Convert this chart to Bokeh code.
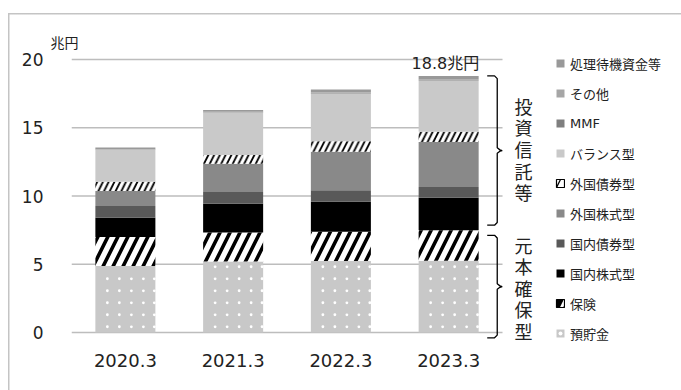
from bokeh.plotting import figure
from bokeh.models import FixedTicker, Legend, LegendItem, ColumnDataSource, Range1d
from bokeh.transform import stack
from bokeh.core.properties import value
from bokeh.embed import file_html
from bokeh.resources import INLINE

# Household financial assets by type, trillion yen (fiscal year end)
periods = ["2020.3", "2021.3", "2022.3", "2023.3"]
deposits = [4.88, 5.20, 5.24, 5.25]
insurance = [2.12, 2.12, 2.15, 2.24]
dom_equity = [1.41, 2.12, 2.19, 2.39]
dom_bond = [0.86, 0.85, 0.84, 0.78]
for_equity = [1.10, 2.07, 2.82, 3.29]
for_bond = [0.68, 0.64, 0.78, 0.75]
balanced = [2.33, 3.10, 3.46, 3.76]
mmf = [0.02, 0.02, 0.03, 0.03]
other = [0.05, 0.05, 0.07, 0.07]
pending = [0.10, 0.13, 0.22, 0.24]

series_keys = ["deposits", "insurance", "dom_equity", "dom_bond", "for_equity",
               "for_bond", "balanced", "mmf", "other", "pending"]
series_names = ["預貯金", "保険", "国内株式型", "国内債券型", "外国株式型",
                "外国債券型", "バランス型", "MMF", "その他", "処理待機資金等"]
y_ticks = [0, 5, 10, 15, 20]
unit_label = "兆円"
group_labels = ["投資信託等", "元本確保型"]

JP = "DejaVu Sans, Noto Sans CJK JP"
TXT = "#222222"

styles = {
    "deposits":   dict(fill_color="#c8c8c8"),
    "insurance":  dict(fill_color="white", hatch_pattern="right_diagonal_line",
                       hatch_color="black", hatch_scale=20, hatch_weight=3.6),
    "dom_equity": dict(fill_color="#000000"),
    "dom_bond":   dict(fill_color="#595959"),
    "for_equity": dict(fill_color="#898989"),
    "for_bond":   dict(fill_color="white", hatch_pattern="right_diagonal_line",
                       hatch_color="black", hatch_scale=11.5, hatch_weight=1.8),
    "balanced":   dict(fill_color="#c9c9c9"),
    "mmf":        dict(fill_color="#7f7f7f"),
    "other":      dict(fill_color="#a6a6a6"),
    "pending":    dict(fill_color="#999999"),
}

# outlined swatches for the hatched series in the legend
legend_swatches = {
    "insurance": dict(fill_color="white", line_color="black", line_width=1.2,
                      hatch_pattern="right_diagonal_line", hatch_color="black",
                      hatch_scale=20, hatch_weight=6),
    "for_bond":  dict(fill_color="white", line_color="black", line_width=1.2,
                      hatch_pattern="right_diagonal_line", hatch_color="black",
                      hatch_scale=20, hatch_weight=1.3),
}

BAR_W = 0.557
xs = [i + 0.5 for i in range(len(periods))]
values_by_key = dict(deposits=deposits, insurance=insurance, dom_equity=dom_equity,
                     dom_bond=dom_bond, for_equity=for_equity, for_bond=for_bond,
                     balanced=balanced, mmf=mmf, other=other, pending=pending)
source = ColumnDataSource(dict(x=xs, **values_by_key))

totals = [sum(v[i] for v in values_by_key.values()) for i in range(len(periods))]
principal_top = [deposits[i] + insurance[i] for i in range(len(periods))]

# light frame line along the left and top edges of the panel
frame_css = {
    "background-color": "white",
    "background-image": "linear-gradient(#c4c4c4, #c4c4c4), linear-gradient(#c4c4c4, #c4c4c4)",
    "background-size": "1.5px 380px, 680px 1.5px",
    "background-position": "8px 13px, 8px 13px",
    "background-repeat": "no-repeat",
}

p = figure(width=681, height=390, output_backend="svg", toolbar_location=None,
           x_range=Range1d(0, 5.661), y_range=Range1d(-0.952, 20.513),
           min_border_left=71, min_border_right=0, min_border_top=52,
           min_border_bottom=45, background_fill_color="white",
           border_fill_alpha=0, outline_line_color=None, styles=frame_css)

p.title.text = unit_label
p.title.align = "left"
p.title.offset = -21
p.title.standoff = 3
p.title.text_font = JP
p.title.text_font_size = "14px"
p.title.text_font_style = "normal"
p.title.text_color = TXT

p.xgrid.visible = False
p.ygrid.visible = False

# horizontal gridlines across the bar area only
p.segment(x0=[0] * len(y_ticks), x1=[len(periods)] * len(y_ticks), y0=y_ticks, y1=y_ticks,
          line_color="#bdbdbd", line_width=1.5)

# legend-only swatches for the hatched series, kept underneath the first
# deposit bar so that only their legend icons are seen
swatch_renderers = {
    key: p.vbar(x=[xs[0]], width=BAR_W / 2, bottom=[0], top=[deposits[0] / 2],
                level="underlay", **kw)
    for key, kw in legend_swatches.items()
}

# stacked bars
renderers = {}
for i, key in enumerate(series_keys):
    r = p.vbar(x="x", width=BAR_W, bottom=stack(*series_keys[:i]),
               top=stack(*series_keys[:i + 1]), source=source, line_color=None,
               **styles[key])
    renderers[key] = r

# white dot texture inside the deposit segments (12 px grid)
col_step, row_step = 12 / 107.75, 12 / 13.65
col_offsets = [-1.5 * col_step, -0.5 * col_step, 0.5 * col_step, 1.5 * col_step,
               BAR_W / 2 - 0.01]
dot_x, dot_y = [], []
for xc, dep in zip(xs, deposits):
    yv = 0.42
    while yv < dep - 0.1:
        for off in col_offsets:
            dot_x.append(xc + off)
            dot_y.append(yv)
        yv += row_step
dots = p.scatter(x=dot_x, y=dot_y, marker="circle", size=2.8, fill_color="white",
                 line_color=None)

# total label on the latest bar
p.text(x=[xs[-1] - 0.03], y=[totals[-1]], text=[f"{totals[-1]:.1f}{unit_label}"],
       text_align="center", text_baseline="bottom", y_offset=-3,
       text_font=value(JP), text_font_size="16px", text_color=TXT)

# curly braces grouping the series
def brace(y_bottom, y_top):
    a, s, t = 3.858, 3.951, 3.997
    mid = (y_bottom + y_top) / 2
    dx, dy = 0.025, 0.2
    xs_ = [a, s - dx, s, s, s + dx, t, s + dx, s, s, s - dx, a]
    ys_ = [y_top, y_top, y_top - dy, mid + dy, mid + 0.05, mid, mid - 0.05,
           mid - dy, y_bottom + dy, y_bottom, y_bottom]
    return xs_, ys_, mid

gap = 0.37
b1 = brace(principal_top[-1] + gap, totals[-1])
b2 = brace(-gap - 0.02, principal_top[-1] - gap)
p.multi_line(xs=[b1[0], b2[0]], ys=[b1[1], b2[1]], line_color="black", line_width=1.3)

p.text(x=[4.195, 4.195], y=[b1[2], b2[2] - 0.2],
       text=["\n".join(group_labels[0]), "\n".join(group_labels[1])],
       text_align="center", text_baseline="middle", text_line_height=1.03,
       text_font=value(JP), text_font_size="18px", text_color=TXT)

# axes
p.xaxis.ticker = FixedTicker(ticks=xs)
p.xaxis.major_label_overrides = {x: lab for x, lab in zip(xs, periods)}
p.yaxis.ticker = FixedTicker(ticks=y_ticks)
for ax in (p.xaxis, p.yaxis):
    ax.axis_line_color = None
    ax.major_tick_line_color = None
    ax.minor_tick_line_color = None
    ax.major_label_text_font = JP
    ax.major_label_text_color = TXT
p.xaxis.major_label_text_font_size = "18px"
p.xaxis.major_label_standoff = 2
p.yaxis.major_label_text_font_size = "17px"
p.yaxis.major_label_standoff = 22
p.yaxis.major_label_text_baseline = "alphabetic"

# legend, top entry first
items = []
for i in reversed(range(len(series_keys))):
    key = series_keys[i]
    rs = [swatch_renderers[key]] if key in swatch_renderers else [renderers[key]]
    if key == "deposits":
        rs.append(dots)
    items.append(LegendItem(label=series_names[i], renderers=rs))
legend = Legend(items=items, location=(484, 1.7), orientation="vertical",
                glyph_width=10, glyph_height=10, label_height=20, spacing=10,
                label_standoff=5, padding=0, margin=0, border_line_color=None,
                background_fill_alpha=0, label_text_font=JP,
                label_text_font_size="13px", label_text_color=TXT)
p.add_layout(legend)

open("out.html", "w").write(file_html(p, INLINE))
